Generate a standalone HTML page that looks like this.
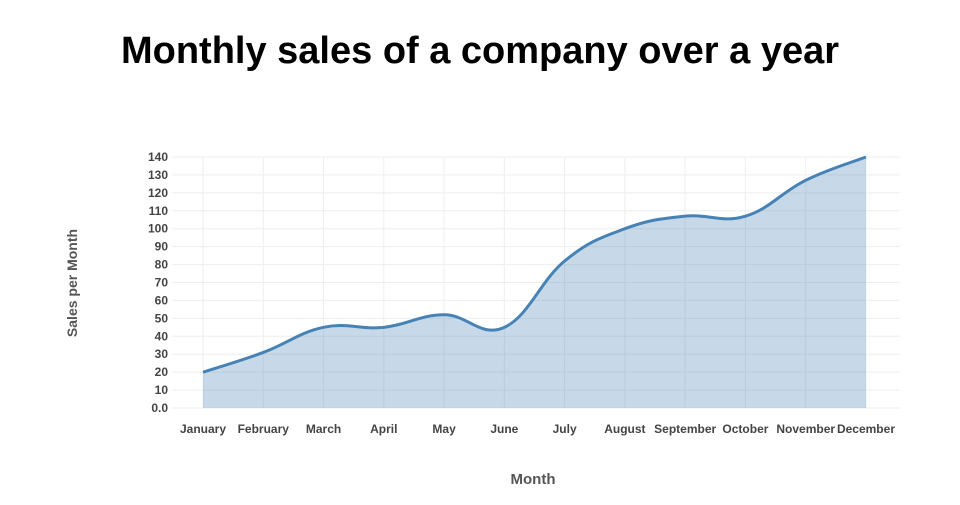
<!DOCTYPE html>
<html><head><meta charset="utf-8"><style>
body{margin:0;background:#fff;}
svg text{font-family:"Liberation Sans",sans-serif;}
</style></head><body>
<svg id="c" width="960" height="500">
<text x="480" y="63" text-anchor="middle" font-size="38" font-weight="bold" fill="#000">Monthly sales of a company over a year</text>
<g id="grid"></g><g id="plot"></g><g id="xt"></g><g id="yt"></g>
<text x="533" y="484" text-anchor="middle" font-size="15" font-weight="bold" fill="#555">Month</text>
<text transform="translate(77,283) rotate(-90)" text-anchor="middle" font-size="14" font-weight="bold" fill="#555">Sales per Month</text>
</svg>
<script>
const months=["January","February","March","April","May","June","July","August","September","October","November","December"];
const sales=[20,31,45,45,52,45,82,100,107,107,127,140];
const yTicks=[0,10,20,30,40,50,60,70,80,90,100,110,120,130,140];
const yTickLabels=["0.0","10","20","30","40","50","60","70","80","90","100","110","120","130","140"];
const NS="http://www.w3.org/2000/svg";
const L=172,R=900,x0=203,dx=60.27,yb=408,ppu=251/140;
const X=i=>x0+i*dx, Y=v=>yb-v*ppu;
function mk(t,a,p){const e=document.createElementNS(NS,t);for(const k in a)e.setAttribute(k,a[k]);p.appendChild(e);return e;}
const g=document.getElementById('grid'),pl=document.getElementById('plot'),xt=document.getElementById('xt'),yt=document.getElementById('yt');
yTicks.forEach((v,i)=>{
 const l=mk('line',{x1:L,x2:R,y1:Y(v),y2:Y(v),stroke:'#eee','stroke-width':1},g);
 
 
 const t=mk('text',{x:168,y:Y(v)+4,'text-anchor':'end','font-size':12,'font-weight':'bold',fill:'#444'},yt);
 t.textContent=yTickLabels[i];
 
 
});
months.forEach((m,i)=>{
 const l=mk('line',{x1:X(i),x2:X(i),y1:Y(140),y2:yb,stroke:'#eee','stroke-width':1},g);
 
 
 const t=mk('text',{x:X(i),y:433,'text-anchor':'middle','font-size':12,'font-weight':'bold',fill:'#444'},xt);
 t.textContent=m;
 
 
});
const pts=sales.map((v,i)=>[X(i),Y(v)]);
let d=`M${pts[0][0]},${pts[0][1]}`;const s=0.2;
for(let i=0;i<pts.length-1;i++){
 const p0=pts[Math.max(0,i-1)],p1=pts[i],p2=pts[i+1],p3=pts[Math.min(pts.length-1,i+2)];
 const c1=[p1[0]+(p2[0]-p0[0])*s,p1[1]+(p2[1]-p0[1])*s];
 const c2=[p2[0]-(p3[0]-p1[0])*s,p2[1]-(p3[1]-p1[1])*s];
 d+=` C${c1[0]},${c1[1]} ${c2[0]},${c2[1]} ${p2[0]},${p2[1]}`;
}
const area=mk('path',{d:d+` L${X(11)},${yb} L${X(0)},${yb} Z`,fill:'rgba(70,130,180,0.3)',stroke:'none'},pl);


const line=mk('path',{d:d,fill:'none',stroke:'#4682b4','stroke-width':3},pl);


</script>
</body></html>
